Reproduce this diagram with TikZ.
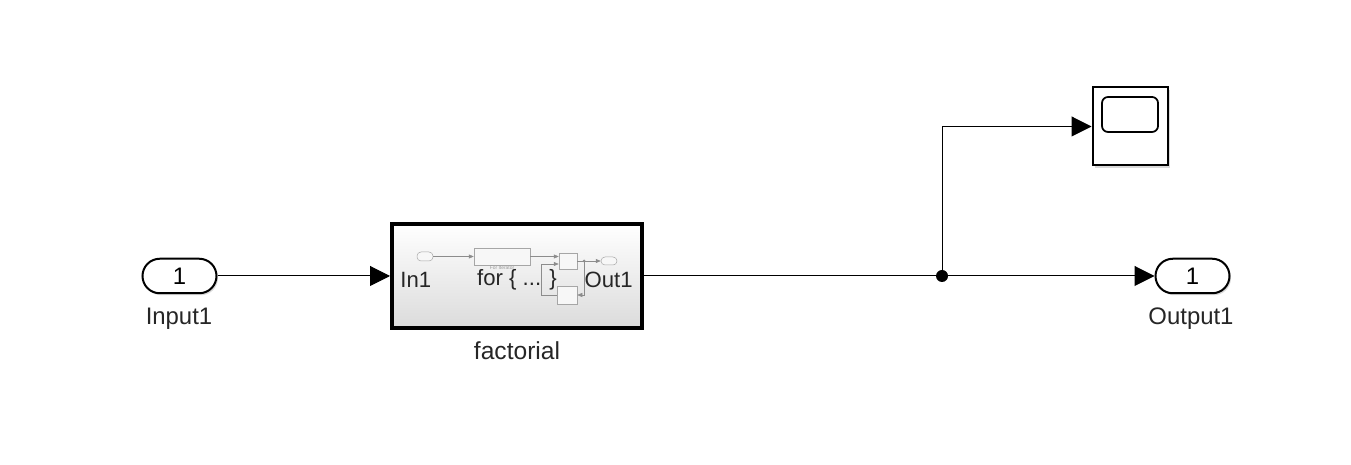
\documentclass[tikz,border=0pt]{standalone}
\usepackage{fontspec}
\setmainfont{Liberation Sans}
\usetikzlibrary{arrows.meta,shadows}
\tikzset{
	sig/.style={line width=0.02cm, -{Triangle[length=0.4cm,width=0.4cm]}},
	subsig/.style={line width=0.01cm, color=black!45, -{Triangle[length=0.1cm,width=0.08cm]}},
	port/.style={draw, line width=0.04cm, rounded corners=0.345cm, minimum width=1.48cm, minimum height=0.69cm, inner sep=0, fill=white, font=\fontsize{13.6}{15}\selectfont, drop shadow={shadow xshift=0.03cm, shadow yshift=-0.04cm, opacity=0.3}},
	lbl/.style={inner sep=0, color=black!85, font=\fontsize{13.6}{15}\selectfont},
	sublbl/.style={lbl, font=\fontsize{12.6}{15}\selectfont},
	subbox/.style={draw=black!35, line width=0.01cm, fill=black!3, inner sep=0},
	subport/.style={subbox, rounded corners=0.08cm},
}

\begin{document}
\begin{tikzpicture}
		%%%%% START %%%%%
		\useasboundingbox (0, 0) rectangle (27.02, 9.3);
		
		\node[port] (input) at (3.59, 3.78) {1};
		\node[lbl] (inputlbl) at (3.58, 2.93) {Input1};
		
		\node[draw, line width=0.08cm, minimum width=5cm, minimum height=2.08cm, top color=white, bottom color=black!14, drop shadow={shadow xshift=0.04cm, shadow yshift=-0.05cm, opacity=0.35}] (factorial) at (10.34, 3.78) {};
		\node[lbl, font=\fontsize{14}{15}\selectfont] (factoriallbl) at (10.34, 2.28) {factorial};
		
		% contents of the subsystem preview
		\node[subport, minimum width=0.32cm, minimum height=0.18cm] (subin) at (8.5, 4.17) {};
		\node[subbox, minimum width=1.12cm, minimum height=0.34cm] (subfor) at (10.04, 4.17) {};
		\node[subbox, minimum width=0.36cm, minimum height=0.32cm] (subsum) at (11.36, 4.08) {};
		\node[subbox, minimum width=0.40cm, minimum height=0.36cm] (subdelay) at (11.34, 3.4) {};
		\node[subport, minimum width=0.32cm, minimum height=0.16cm] (subout) at (12.18, 4.08) {};
		\node[inner sep=0, color=black!40, font=\fontsize{2.8}{3}\selectfont] (subforlbl) at (10.04, 3.94) {For Iterator};
		\coordinate (subfork) at (11.68, 4.08);
		\coordinate (subback) at (10.82, 4.02);
		
		\draw[subsig] (subin) -- (subfor);
		\draw[subsig] (subfor.east) -- (subfor.east -| subsum.west);
		\draw[subsig] (subsum) -- (subout);
		\draw[subsig] (subfork) |- (subdelay.east);
		\draw[subsig] (subdelay.west) -| (subback) -- (subback -| subsum.west);
		\fill[black!45] (subfork) circle (0.03);
		
		\node[sublbl, anchor=west] (inlbl) at (8.0, 3.7) {In1};
		\node[sublbl] (forlbl) at (10.34, 3.7) {for \{ ... \}};
		\node[sublbl, anchor=east] (outlbl) at (12.66, 3.7) {Out1};
		
		\node[draw, line width=0.04cm, minimum width=1.5cm, minimum height=1.56cm, fill=white, drop shadow={shadow xshift=0.04cm, shadow yshift=-0.05cm, opacity=0.3}] (scope) at (22.6, 6.77) {};
		\node[draw, line width=0.035cm, rounded corners=0.12cm, minimum width=1.12cm, minimum height=0.7cm] (screen) at (22.6, 7.01) {};
		
		\node[port] (output) at (23.85, 3.78) {1};
		\node[lbl] (outputlbl) at (23.82, 2.93) {Output1};
		
		\node[circle, fill=black, inner sep=0, minimum size=0.24cm] (fork) at (18.84, 3.78) {};
		
		\draw[sig] (input) -- (factorial);
		\draw[line width=0.02cm] (factorial) -- (fork);
		\draw[sig] (fork) -- (output);
		\draw[sig] (fork) |- (scope.west);
		
		%%%%% END %%%%%
	\end{tikzpicture}
\end{document}
